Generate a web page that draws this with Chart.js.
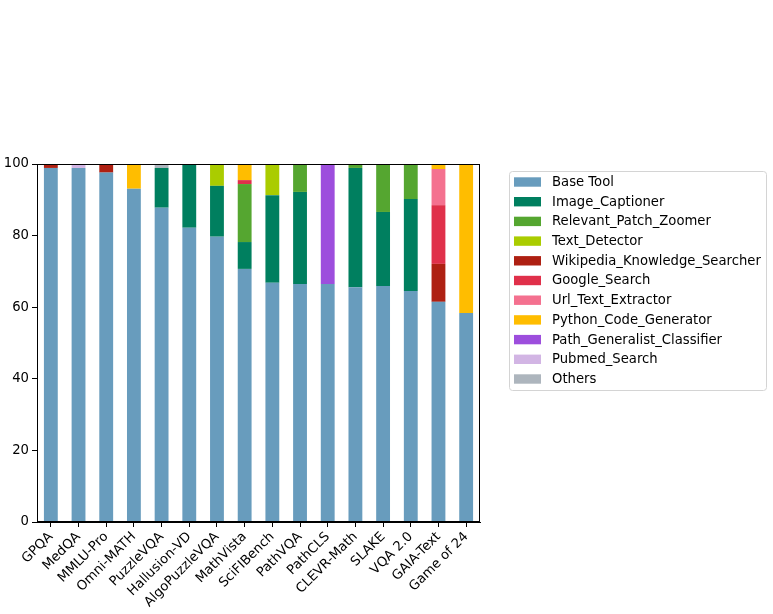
<!DOCTYPE html>
<html>
<head>
<meta charset="utf-8">
<script src="https://cdn.jsdelivr.net/npm/chart.js@4/dist/chart.umd.min.js"></script>
<style>
html,body{margin:0;padding:0;background:#fff;}
#wrap{position:relative;width:773px;height:614px;}
</style>
</head>
<body>
<div id="wrap"><canvas id="c" width="773" height="614"></canvas></div>
<script>
const categories = ["GPQA","MedQA","MMLU-Pro","Omni-MATH","PuzzleVQA","Hallusion-VD","AlgoPuzzleVQA","MathVista","SciFIBench","PathVQA","PathCLS","CLEVR-Math","SLAKE","VQA 2.0","GAIA-Text","Game of 24"];
const seriesNames = ["Base Tool","Image_Captioner","Relevant_Patch_Zoomer","Text_Detector","Wikipedia_Knowledge_Searcher","Google_Search","Url_Text_Extractor","Python_Code_Generator","Path_Generalist_Classifier","Pubmed_Search","Others"];
const baseTool        = [98.9,98.9,97.6,93.1,87.8,82.2,79.7,70.7,66.8,66.5,66.5,65.6,65.9,64.5,61.5,58.4];
const imageCaptioner  = [0,0,0,0,11.1,17.8,14.2,7.5,24.5,25.7,0,33.3,20.7,25.7,0,0];
const patchZoomer     = [0,0,0,0,0,0,0,16.2,0,7.8,0,1.1,13.4,9.8,0,0];
const textDetector    = [0,0,0,0,0,0,6.1,0,8.7,0,0,0,0,0,0,0];
const wikipedia       = [1.1,0,2.4,0,0,0,0,0,0,0,0,0,0,0,10.6,0];
const googleSearch    = [0,0,0,0,0,0,0,1.1,0,0,0,0,0,0,16.4,0];
const urlExtractor    = [0,0,0,0,0,0,0,0,0,0,0,0,0,0,10.1,0];
const pythonGen       = [0,0,0,6.9,0,0,0,4.5,0,0,0,0,0,0,1.4,41.6];
const pathGeneralist  = [0,0,0,0,0,0,0,0,0,0,33.5,0,0,0,0,0];
const pubmedSearch    = [0,1.1,0,0,0,0,0,0,0,0,0,0,0,0,0,0];
const others          = [0,0,0,0,1.1,0,0,0,0,0,0,0,0,0,0,0];
const yTicks = [0,20,40,60,80,100];

const seriesValues = [baseTool,imageCaptioner,patchZoomer,textDetector,wikipedia,googleSearch,urlExtractor,pythonGen,pathGeneralist,pubmedSearch,others];
const colors = ["#689cbd","#007f5f","#55a630","#aacc00","#ae2012","#e0304a","#f4718f","#ffbd00","#9d4edd","#d2b5e4","#adb5bd"];

const FONT = "'DejaVu Sans', sans-serif";
const FS = 13.2;
Chart.defaults.color = '#000';
Chart.defaults.font.family = FONT;
Chart.defaults.font.size = FS;

const frame = {
  id:'frame',
  afterDatasetsDraw(chart){
    const {ctx, chartArea:a} = chart;
    ctx.save();
    ctx.strokeStyle = '#000';
    ctx.lineWidth = 1;
    ctx.strokeRect(Math.round(a.left)+0.5, Math.round(a.top)+0.5, Math.round(a.right-a.left)-1, Math.round(a.bottom-a.top)-1);
    ctx.restore();
  }
};

const legendBox = {
  id:'legendBox',
  afterDraw(chart){
    const ctx = chart.ctx;
    ctx.save();
    const x=509.5, y=171.5, w=257, h=219, r=3;
    ctx.beginPath();
    ctx.moveTo(x+r,y); ctx.lineTo(x+w-r,y); ctx.quadraticCurveTo(x+w,y,x+w,y+r);
    ctx.lineTo(x+w,y+h-r); ctx.quadraticCurveTo(x+w,y+h,x+w-r,y+h);
    ctx.lineTo(x+r,y+h); ctx.quadraticCurveTo(x,y+h,x,y+h-r);
    ctx.lineTo(x,y+r); ctx.quadraticCurveTo(x,y,x+r,y); ctx.closePath();
    ctx.fillStyle='#fff'; ctx.fill();
    ctx.strokeStyle='#d4d4d4'; ctx.lineWidth=1; ctx.stroke();
    ctx.font = FS + "px " + FONT;
    ctx.textBaseline = 'middle';
    ctx.textAlign = 'left';
    seriesNames.forEach((n,i)=>{
      const cy = 182 + i*19.7;
      ctx.fillStyle = colors[i];
      ctx.fillRect(514, cy-4.7, 27, 9.4);
      ctx.fillStyle = '#000';
      ctx.fillText(n, 552, cy+0.5);
    });
    ctx.restore();
  }
};

new Chart(document.getElementById('c'), {
  type:'bar',
  data:{
    labels: categories,
    datasets: seriesNames.map((n,i)=>({
      label:n, data:seriesValues[i], backgroundColor:colors[i], borderWidth:0,
      barPercentage:1.0, categoryPercentage:0.5
    }))
  },
  options:{
    responsive:false, animation:false,
    layout:{padding:{left:0,right:293,top:164,bottom:0}},
    plugins:{legend:{display:false}, tooltip:{enabled:false}},
    scales:{
      x:{
        stacked:true,
        grid:{display:true, offset:false, drawOnChartArea:false, drawTicks:true, tickLength:5, color:'#000'},
        border:{display:true, color:'#000'},
        ticks:{maxRotation:45, minRotation:45, autoSkip:false, padding:2, font:{size:FS}},
        afterFit(s){ s.height = 92; }
      },
      y:{
        stacked:true, min:0, max:100,
        afterBuildTicks(s){ s.ticks = yTicks.map(v=>({value:v})); },
        grid:{display:true, drawOnChartArea:false, drawTicks:true, tickLength:5, color:'#000'},
        border:{display:true, color:'#000'},
        ticks:{padding:3, font:{size:FS}},
        afterFit(s){ s.width = 37; }
      }
    }
  },
  plugins:[frame, legendBox]
});
</script>
</body>
</html>
